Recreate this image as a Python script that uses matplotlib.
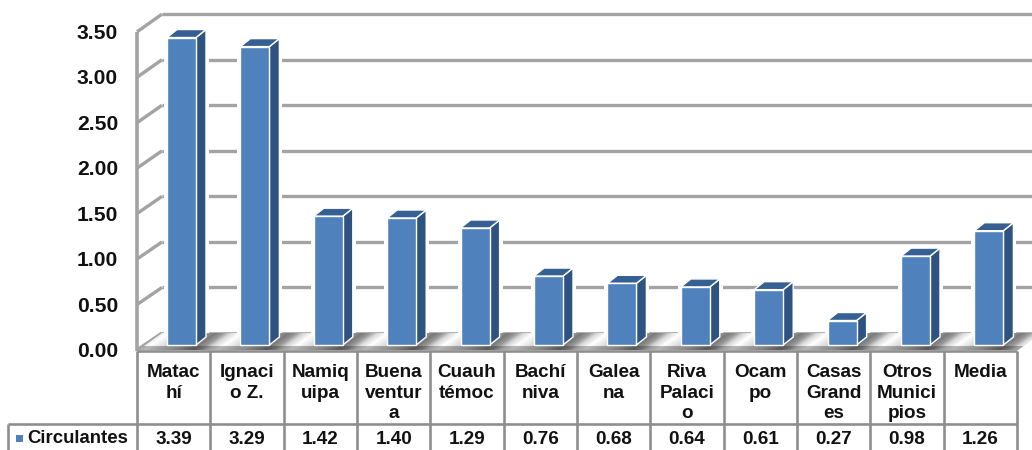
import matplotlib
matplotlib.use('Agg')
import matplotlib.pyplot as plt
from matplotlib.patches import Polygon, Rectangle
import numpy as np

plt.rcParams['font.family'] = ['Liberation Sans', 'DejaVu Sans']
plt.rcParams['font.weight'] = 'bold'

labels = ['Matac\nhí', 'Ignaci\no Z.', 'Namiq\nuipa', 'Buena\nventur\na', 'Cuauh\ntémoc',
          'Bachí\nniva', 'Galea\nna', 'Riva\nPalaci\no', 'Ocam\npo', 'Casas\nGrand\nes',
          'Otros\nMunici\npios', 'Media']
values = [3.39, 3.29, 1.42, 1.40, 1.29, 0.76, 0.68, 0.64, 0.61, 0.27, 0.98, 1.26]
ticks = [0.0, 0.5, 1.0, 1.5, 2.0, 2.5, 3.0, 3.5]
series_name = 'Circulantes'

W, H = 1032, 450
FRONT = '#4f81bd'
SIDE = '#2f5380'
TOP = '#376092'
GRID = '#a3a3a3'
TABLE = '#8e8e8e'

# pixel scale of the value axis and the category axis
PX_Y = 90.7
PX_X = 73.4
X0, Y0 = 181.5, 345

fig = plt.figure(figsize=(W / 100, H / 100), dpi=100)
ax = fig.add_axes([0, 0, 1, 1])
ax.set_xlim(-X0 / PX_X, (W - X0) / PX_X)
ax.set_ylim((Y0 - H) / PX_Y, Y0 / PX_Y)
ax.axis('off')


def px(x, y):
    # picture pixels to data coordinates
    return (x - X0) / PX_X, (Y0 - y) / PX_Y


def line(x1, y1, x2, y2, color=GRID, lw=2.4, z=1):
    a, b = px(x1, y1), px(x2, y2)
    ax.plot([a[0], b[0]], [a[1], b[1]], color=color, lw=lw, zorder=z, solid_capstyle='butt')


# floor with the metallic streaks
streak_pos = [0, 10, 25, 40, 58, 66, 73.4]
streak_val = [0.85, 1.0, 0.85, 0.72, 0.48, 0.6, 0.85]
floor_x = np.linspace(130, 1040, 900)
rows = []
for k in range(18):
    row = np.interp((floor_x - (k - 9) * 1.4) % 73.4, streak_pos, streak_val)
    if k < 4:
        row = row * 0.72
    rows.append(row)
a = px(130, 350)
b = px(1040, 332)
im = ax.imshow(np.array(rows)[::-1], extent=[a[0], b[0], a[1], b[1]], cmap='gray', vmin=0, vmax=1,
               aspect='auto', zorder=2.5, interpolation='bilinear')
floor = Polygon([px(137, 351), px(162, 333), px(1032, 333), px(1032, 340), px(1017, 351)],
                closed=True, transform=ax.transData, fc='none', ec='none')
ax.add_patch(floor)
im.set_clip_path(floor)
ax.set_xlim(-X0 / PX_X, (W - X0) / PX_X)
ax.set_ylim((Y0 - H) / PX_Y, Y0 / PX_Y)

# walls
for t in ticks:
    yf = 350 - t * 90.9
    yb = 333 - t * 91.1
    line(137, yf, 162, yb)
    line(162, yb, W, yb, lw=2.4 if t > 0 else 1.2)
    ax.text(px(118, 0)[0], px(0, yf + 1.5)[1], f'{t:.2f}', ha='right', va='center', fontsize=15.2, color='#111111')
line(137, 351, 137, 350 - 3.5 * 90.9, lw=2.6)

# bars
x = np.arange(len(values))
dx = 10 / PX_X
dy = 8 / PX_Y
for i, v in enumerate(values):
    w = 29 / PX_X
    l, r = i - w / 2, i + w / 2
    # white halo that cuts the gridlines
    ax.add_patch(Rectangle((l - 3 / PX_X, 0), w + dx + 6 / PX_X, v + 1 / PX_Y, fc='white', ec='none', zorder=2))
    ax.add_patch(Polygon([(r, 0), (r + dx, dy), (r + dx, v + dy), (r, v)], fc=SIDE, ec='white', lw=1, zorder=3))
    ax.add_patch(Polygon([(l, v), (r, v), (r + dx, v + dy), (l + dx, v + dy)], fc=TOP, ec='white', lw=1, zorder=3))
ax.bar(x, values, width=29 / PX_X, color=FRONT, edgecolor='white', linewidth=1, zorder=4)

# data table under the chart
col_w = 880 / 12
top, mid, bot = 351, 424, 451
for i in range(13):
    xc = 137 + i * col_w
    line(xc, top, xc, bot, color=TABLE, lw=1.9, z=5)
line(137, top, 137 + 12 * col_w, top, color=TABLE, lw=1.9, z=5)
line(8, mid, 137 + 12 * col_w, mid, color=TABLE, lw=1.9, z=5)
line(8, mid, 8, bot, color=TABLE, lw=1.9, z=5)
for i, (lab, v) in enumerate(zip(labels, values)):
    xc = 137 + (i + 0.5) * col_w
    ax.text(px(xc, 0)[0], px(0, 364)[1], lab, ha='center', va='top', fontsize=13.6,
            linespacing=1.27, color='#111111', zorder=6)
    ax.text(px(xc, 0)[0], px(0, 440)[1], f'{v:.2f}', ha='center', va='center', fontsize=13.6,
            color='#111111', zorder=6)
ax.add_patch(Rectangle(px(16, 442), 7 / PX_X, 7 / PX_Y, fc=FRONT, ec='none', zorder=6))
ax.text(px(27.5, 0)[0], px(0, 438.5)[1], series_name, ha='left', va='center', fontsize=13.4,
        color='#111111', zorder=6)

fig.savefig('out.png', dpi=100)
